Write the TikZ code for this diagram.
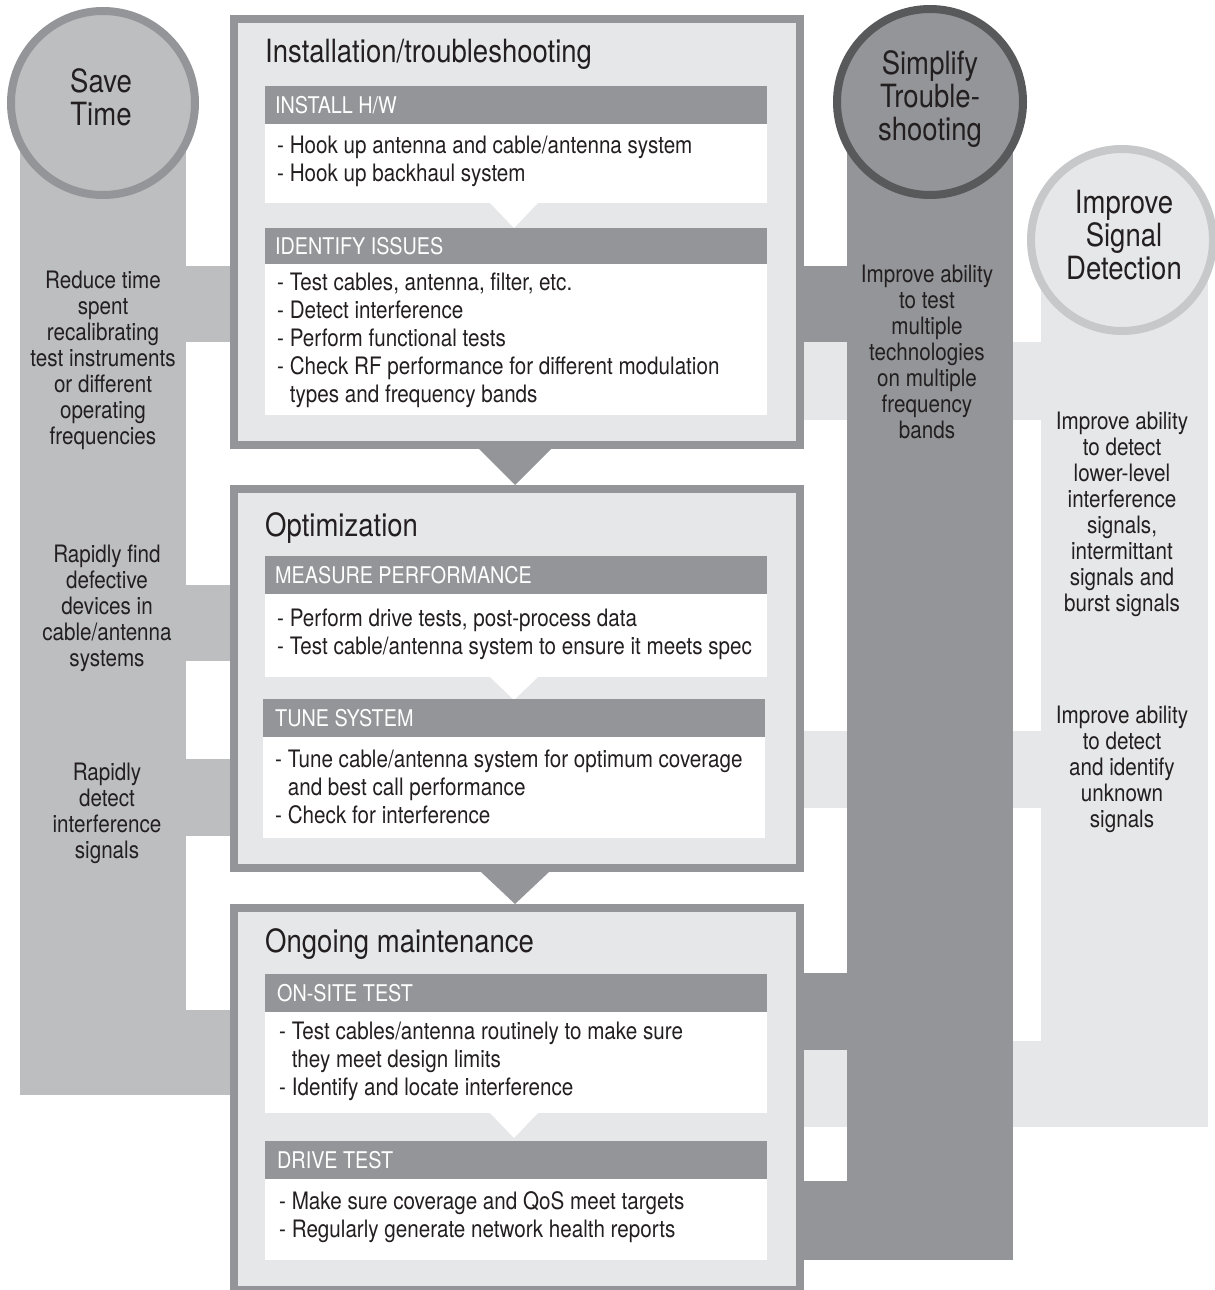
\documentclass[tikz,border=0pt]{standalone}
\usepackage{fontspec}
\setmainfont{TeX Gyre Heros}[FakeStretch=0.86]
\usetikzlibrary{positioning}

\definecolor{midgray}{HTML}{939598}
\definecolor{lightgray}{HTML}{BCBEC0}
\definecolor{palegray}{HTML}{E6E7E8}
\definecolor{darkgray}{HTML}{58595B}
\definecolor{ringgray}{HTML}{C7C8CA}
\definecolor{inkgray}{HTML}{231F20}

\begin{document}
\begin{tikzpicture}[x=1pt,y=-1pt,
    stagebox/.style={draw=midgray, line width=8pt, fill=palegray},
    bubble/.style={line width=8pt},
    title/.style={anchor=base west, inner sep=0, text=inkgray, font=\fontsize{32}{33}\selectfont},
    headtext/.style={anchor=west, inner sep=0, text=white, font=\fontsize{23}{26}\selectfont},
    bodytext/.style={anchor=north west, inner sep=0, align=left, text=inkgray, font=\fontsize{24}{28}\selectfont},
    pillartext/.style={inner sep=0, align=center, text=inkgray, font=\fontsize{24}{26}\selectfont},
    bubbletext/.style={inner sep=0, align=center, text=inkgray, font=\fontsize{32}{33}\selectfont}]

    \useasboundingbox (0,0) rectangle (1215,1290);

    % right column: improve signal detection
    \fill[palegray] (1041,240) rectangle (1208,1127);
    \fill[palegray] (803,342) rectangle (1041,420);
    \fill[palegray] (803,731) rectangle (1041,808);
    \fill[palegray] (803,1041) rectangle (1041,1127);

    % middle column: simplify troubleshooting
    \fill[midgray] (847,103) rectangle (1013,1260);
    \fill[midgray] (803,266) rectangle (847,342);
    \fill[midgray] (803,973) rectangle (847,1050);
    \fill[midgray] (803,1181) rectangle (1013,1260);

    % left column: save time
    \fill[lightgray] (20,103) rectangle (186,1095);
    \fill[lightgray] (186,266) rectangle (230,342);
    \fill[lightgray] (186,585) rectangle (230,661);
    \fill[lightgray] (186,759) rectangle (230,836);
    \fill[lightgray] (186,1010) rectangle (230,1095);

    % circles
    \draw[bubble, draw=midgray, fill=lightgray] (103,103) circle (92pt);
    \draw[bubble, draw=darkgray, fill=midgray] (930,102) circle (93pt);
    \draw[bubble, draw=ringgray, fill=palegray] (1122,240) circle (91pt);

    \node[bubbletext] (savetime) at (101,97) {Save\\Time};
    \node[bubbletext] (simplify) at (930,99) {Simplify\\Trouble-\\shooting};
    \node[bubbletext] (improve) at (1124,235) {Improve\\Signal\\Detection};

    % stage boxes and arrows between them
    \draw[stagebox] (233.5,19.5) rectangle (799.5,445);
    \draw[stagebox] (233.5,489) rectangle (799.5,868);
    \draw[stagebox] (233.5,908) rectangle (799.5,1290);
    \fill[midgray] (479,449) -- (551,449) -- (515,485) -- cycle;
    \fill[midgray] (481,872) -- (549,872) -- (515,904) -- cycle;

    % installation
    \node[title] (install) at (265,63) {Installation/troubleshooting};
    \fill[midgray] (265,86) rectangle (767,124);
    \fill[white] (265,124) rectangle (767,203);
    \fill[white] (490,203) -- (538,203) -- (514,228) -- cycle;
    \fill[midgray] (265,228) rectangle (767,264);
    \fill[white] (265,264) rectangle (767,415);
    \node[headtext] (hw) at (275,105) {INSTALL H/W};
    \node[bodytext] (hwlist) at (277,135.5) {- Hook up antenna and cable/antenna system\\- Hook up backhaul system};
    \node[headtext] (issues) at (275,246) {IDENTIFY ISSUES};
    \node[bodytext] (issueslist) at (277,272.5) {- Test cables, antenna, filter, etc.\\- Detect interference\\- Perform functional tests\\- Check RF performance for different modulation\\\phantom{- }types and frequency bands};

    % optimization
    \node[title] (optim) at (265,536) {Optimization};
    \fill[midgray] (265,556) rectangle (767,594);
    \fill[white] (265,594) rectangle (767,677);
    \fill[white] (490,677) -- (538,677) -- (514,700) -- cycle;
    \fill[midgray] (263,699) rectangle (765,737);
    \fill[white] (263,737) rectangle (765,838);
    \node[headtext] (measure) at (275,575) {MEASURE PERFORMANCE};
    \node[bodytext] (measurelist) at (277,608.5) {- Perform drive tests, post-process data\\- Test cable/antenna system to ensure it meets spec};
    \node[headtext] (tune) at (275,718) {TUNE SYSTEM};
    \node[bodytext] (tunelist) at (275,749.5) {- Tune cable/antenna system for optimum coverage\\\phantom{- }and best call performance\\- Check for interference};

    % ongoing maintenance
    \node[title] (maint) at (265,952) {Ongoing maintenance};
    \fill[midgray] (265,974) rectangle (767,1012);
    \fill[white] (265,1012) rectangle (767,1113);
    \fill[white] (490,1113) -- (538,1113) -- (514,1138) -- cycle;
    \fill[midgray] (265,1141) rectangle (767,1179);
    \fill[white] (265,1179) rectangle (767,1260);
    \node[headtext] (onsite) at (277,993) {ON-SITE TEST};
    \node[bodytext] (onsitelist) at (279,1021.5) {- Test cables/antenna routinely to make sure\\\phantom{- }they meet design limits\\- Identify and locate interference};
    \node[headtext] (drive) at (277,1160) {DRIVE TEST};
    \node[bodytext] (drivelist) at (279,1191.5) {- Make sure coverage and QoS meet targets\\- Regularly generate network health reports};

    % benefits along the columns
    \node[pillartext] (recal) at (103,360) {Reduce time\\spent\\recalibrating\\test instruments\\or different\\operating\\frequencies};
    \node[pillartext] (defect) at (107,608) {Rapidly find\\defective\\devices in\\cable/antenna\\systems};
    \node[pillartext] (rapid) at (107,813) {Rapidly\\detect\\interference\\signals};
    \node[pillartext] (multi) at (927,352) {Improve ability\\to test\\multiple\\technologies\\on multiple\\frequency\\bands};
    \node[pillartext] (lower) at (1122,514) {Improve ability\\to detect\\lower-level\\interference\\signals,\\intermittant\\signals and\\burst signals};
    \node[pillartext] (unknown) at (1122,769) {Improve ability\\to detect\\and identify\\unknown\\signals};

\end{tikzpicture}
\end{document}
